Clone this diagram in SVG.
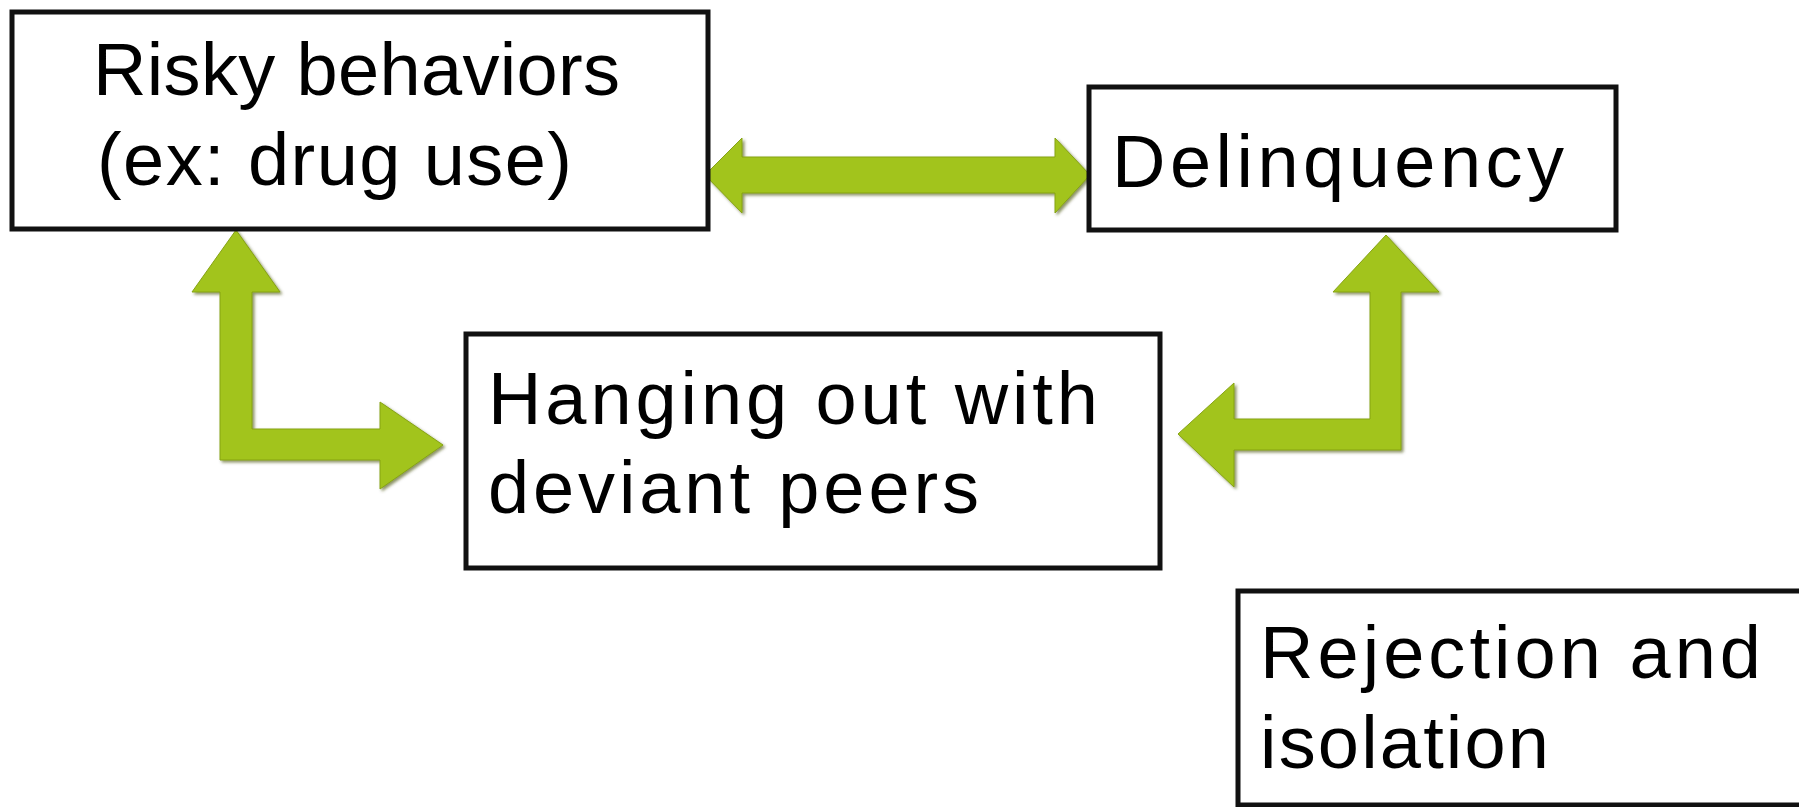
<svg xmlns="http://www.w3.org/2000/svg" width="1799" height="807" viewBox="0 0 1799 807">
  <style>
    .box { fill: #ffffff; stroke: #111111; stroke-width: 5; }
    .lbl { font-family: "Liberation Sans", Arial, sans-serif; font-size: 74px; fill: #000000; }
    .arrow { fill: #A2C41E; stroke: #86A313; stroke-width: 1; filter: url(#bevel); }
  </style>
  <defs>
    <filter id="bevel" x="-10%" y="-10%" width="120%" height="120%">
      <feGaussianBlur in="SourceAlpha" stdDeviation="1.5" result="blur"/>
      <feOffset in="blur" dx="1.5" dy="1.5" result="off"/>
      <feFlood flood-color="#3f4a08" flood-opacity="0.6"/>
      <feComposite in2="off" operator="in" result="shadow"/>
      <feMerge>
        <feMergeNode in="shadow"/>
        <feMergeNode in="SourceGraphic"/>
      </feMerge>
    </filter>
  </defs>
  <rect width="1799" height="807" fill="#ffffff"/>

  <g id="connectors">
    <polygon class="arrow" points="705,175 742,138 742,157 1055,157 1055,138 1090,175 1055,213 1055,193 742,193 742,213"/>
    <polygon class="arrow" points="236,230 280,292 252,292 252,429 380,429 380,402 443,445 380,489 380,460 220,460 220,292 192,292"/>
    <polygon class="arrow" points="1386,235 1439,292 1401,292 1401,450 1234,450 1234,487 1178,434 1234,383 1234,419 1370,419 1370,292 1333,292"/>
  </g>

  <g id="node-risky">
    <rect class="box" x="12" y="12" width="696" height="217"/>
    <text class="lbl" x="93" y="95" textLength="527">Risky behaviors</text>
    <text class="lbl" x="97" y="185" textLength="475">(ex: drug use)</text>
  </g>

  <g id="node-delinquency">
    <rect class="box" x="1089" y="87" width="527" height="143"/>
    <text class="lbl" x="1112" y="187" textLength="452">Delinquency</text>
  </g>

  <g id="node-hanging">
    <rect class="box" x="466" y="334" width="694" height="234"/>
    <text class="lbl" x="488" y="424" textLength="610">Hanging out with</text>
    <text class="lbl" x="488" y="513" textLength="491">deviant peers</text>
  </g>

  <g id="node-rejection">
    <rect class="box" x="1238" y="591" width="580" height="214"/>
    <text class="lbl" x="1260" y="678" textLength="501">Rejection and</text>
    <text class="lbl" x="1260" y="768" textLength="289">isolation</text>
  </g>
</svg>
